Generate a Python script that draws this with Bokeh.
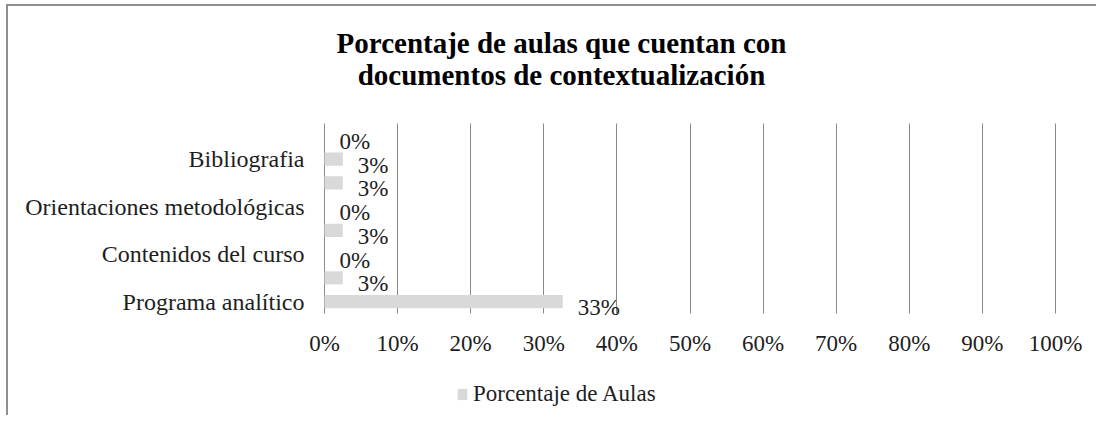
import math
from bokeh.plotting import figure
from bokeh.models import (Range1d, FixedTicker, PrintfTickFormatter, ColumnDataSource,
                          Label, Legend, LegendItem)
from bokeh.core.properties import value
from bokeh.embed import file_html
from bokeh.resources import INLINE

# ---- data (rows listed top to bottom) ----
categories = ["", "Bibliografia", "", "Orientaciones metodológicas", "",
              "Contenidos del curso", "", "Programa analítico"]
values = [0, 2.5, 2.5, 0, 2.5, 0, 2.5, 32.6]
series_name = "Porcentaje de Aulas"
x_ticks = [0, 10, 20, 30, 40, 50, 60, 70, 80, 90, 100]
title_lines = ["Porcentaje de aulas que cuentan con", "documentos de contextualización"]

FONT = "Liberation Serif"
TXT = "#1e1e1e"

n = len(categories)
rows = [i + 0.5 for i in range(n)]
labels = [f"{math.floor(v + 0.5)}%" for v in values]
src = ColumnDataSource(dict(y=rows, v=values, lab=labels))

# ---- layout geometry (canvas pixels) ----
W, H = 1090, 411
AX_L, AX_R = 316, 1047         # 0% .. 100% span canvas x 316..1047
ROW_TOP, ROW_BOT = 117, 307    # rows occupy canvas y 117..307
unit = (ROW_BOT - ROW_TOP) / n
xunit = (AX_R - AX_L) / 100.0

def dx(cx):
    return (cx - AX_L) / xunit

def dy(cy):
    return (cy - ROW_TOP) / unit

p = figure(width=W, height=H, output_backend="svg", toolbar_location=None,
           x_range=Range1d(dx(0), dx(W)), y_range=Range1d(dy(H), dy(0)), title=None,
           min_border_left=0, min_border_right=0, min_border_top=0,
           min_border_bottom=0)
p.styles = {"margin-left": "6px", "margin-top": "4px",
            "border-left": "2px solid #8e8e8e", "border-top": "2px solid #8e8e8e"}
p.outline_line_color = None
p.background_fill_color = "white"
p.border_fill_color = "white"

# grid lines limited to the row area
p.ygrid.grid_line_color = None
p.xgrid.grid_line_color = "#8a8a8a"
p.xgrid.grid_line_width = 1
try:
    p.xgrid.cross_bounds = (0, n)
except Exception:
    p.xgrid.grid_line_color = None
    p.segment(x0=x_ticks, x1=x_ticks, y0=[0] * len(x_ticks), y1=[n] * len(x_ticks),
              line_color="#8a8a8a", line_width=1)

bars = p.hbar(y="y", left=0, right="v", height=0.55, source=src,
              fill_color="#d9d9d9", line_color=None)
p.text(x="v", y="y", text="lab", source=src, x_offset=15, y_offset=6,
       text_align="left", text_baseline="middle",
       text_font=value(FONT), text_font_size="23px", text_color=TXT)

# x axis drawn at the bottom of the row area
xa = p.xaxis[0]
xa.fixed_location = n
xa.ticker = FixedTicker(ticks=x_ticks)
xa.formatter = PrintfTickFormatter(format="%d%%")
xa.axis_line_color = None
xa.major_tick_line_color = None
xa.minor_tick_line_color = None
xa.major_tick_out = 0
xa.major_tick_in = 0
xa.major_label_standoff = 17
xa.major_label_text_font = FONT
xa.major_label_text_font_size = "23px"
xa.major_label_text_color = TXT

# y axis drawn at x = 0
ya = p.yaxis[0]
ya.fixed_location = 0
tick_pos = [rows[i] for i, c in enumerate(categories) if c]
ya.ticker = FixedTicker(ticks=tick_pos)
ya.major_label_overrides = {rows[i]: c for i, c in enumerate(categories) if c}
ya.axis_line_color = None
ya.major_tick_line_color = None
ya.minor_tick_line_color = None
ya.major_tick_out = 0
ya.major_tick_in = 0
ya.major_label_standoff = 20
ya.major_label_text_font = FONT
ya.major_label_text_font_size = "24px"
ya.major_label_text_color = TXT

# title: two centred lines
for line, cy in zip(title_lines, [36, 68]):
    p.add_layout(Label(x=dx(553), y=dy(cy), text=line, text_align="center",
                       text_baseline="alphabetic", text_font=FONT,
                       text_font_size="29px", text_font_style="bold",
                       text_color="#000000"))

legend = Legend(items=[LegendItem(label=series_name, renderers=[bars])],
                location=(448, 10), orientation="horizontal",
                glyph_width=12, glyph_height=14, label_standoff=5,
                padding=0, margin=0, border_line_color=None,
                background_fill_alpha=0,
                label_text_font=FONT, label_text_font_size="23px",
                label_text_color=TXT)
p.add_layout(legend, "center")

open("out.html", "w").write(file_html(p, INLINE))
